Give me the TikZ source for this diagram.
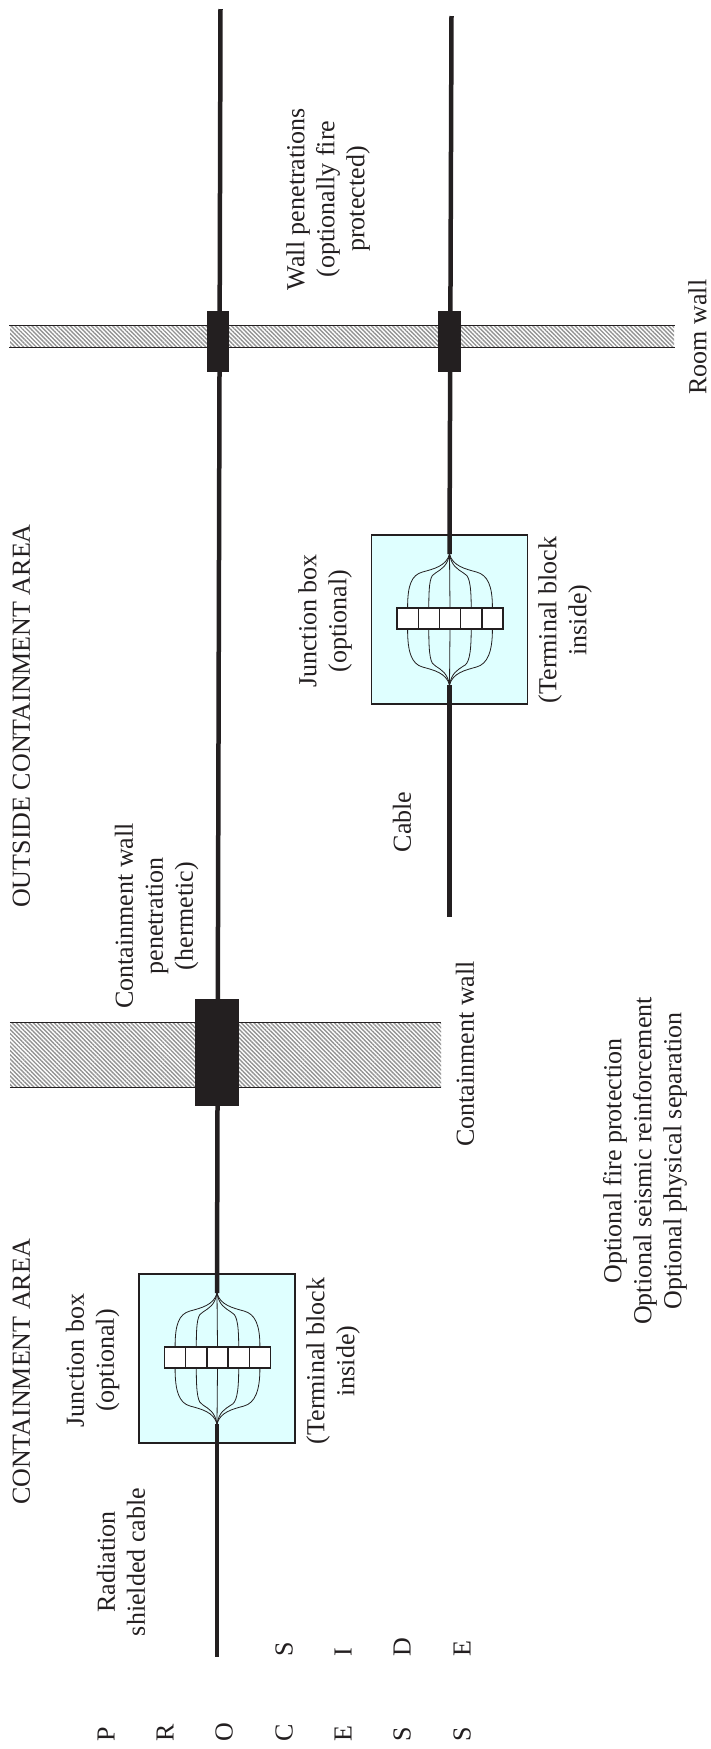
\documentclass[tikz,border=0pt]{standalone}
\usepackage{fontspec}
\setmainfont{Liberation Serif}
\usetikzlibrary{patterns.meta}
\definecolor{boxcyan}{HTML}{DFFFFF}
\definecolor{inkblack}{HTML}{231F20}
\tikzset{label/.style={rotate=90,align=center,inner sep=0pt,font=\fontsize{26}{30}\selectfont,text=inkblack},letter/.style={rotate=90,anchor=west,inner sep=0pt,text height=17pt,text depth=0pt,font=\fontsize{26}{30}\selectfont,text=inkblack},cable/.style={line width=4.5pt,inkblack},wire/.style={line width=0.8pt,inkblack},jbox/.style={rectangle,draw=inkblack,line width=1.2pt,fill=boxcyan,minimum width=156pt,minimum height=169pt,inner sep=0pt},cell/.style={rectangle,draw=inkblack,line width=1.4pt,fill=white,minimum width=21.2pt,minimum height=21pt,inner sep=0pt},block/.style={rectangle,fill=inkblack,inner sep=0pt},wall/.style={rectangle,inner sep=0pt,pattern={Lines[angle=-45,distance=3pt,line width=1.4pt]},pattern color=gray!85},walledge/.style={line width=1.3pt,inkblack}}

\begin{document}
\begin{tikzpicture}[x=1pt,y=-1pt]
\useasboundingbox (0,0) rectangle (710,1749);
% walls
\node[wall,minimum width=664pt,minimum height=21pt] (roomwall) at (342,336.5) {};
\node[wall,minimum width=431pt,minimum height=64pt] (contwall) at (225.5,1055) {};
\draw[walledge] (roomwall.north west) -- (roomwall.north east);
\draw[walledge] (roomwall.south west) -- (roomwall.south east);
\draw[walledge] (contwall.north west) -- (contwall.north east);
\draw[walledge] (contwall.south west) -- (contwall.south east);
% junction boxes
\foreach \bx/\by/\bn in {217/1358.5/ja,449.5/619.5/jb}{
\node[jbox] (\bn) at (\bx,\by) {};
\coordinate (\bn top) at (\bx,\by-65.5);
\coordinate (\bn bot) at (\bx,\by+65.5);
\foreach \c/\dx in {1/-42.4,2/-21.2,3/0,4/21.2,5/42.4}{
\node[cell] (\bn\c) at (\bx+0.5+\dx,\by-1) {};
}
\foreach \e/\a/\v in {top/north/1,bot/south/-1}{
\draw[wire] (\bn\e) -- (\bn3.\a);
\foreach \c/\s in {1/-1,5/1}{
\draw[wire] (\bn\e) .. controls +({\s*3},{\v*12}) and +({\s*-11},{\v*-3}) .. ++({\s*27},{\v*18}) .. controls +({\s*11},{\v*3}) and +(0,{\v*-22}) .. (\bn\c.\a);
}
\foreach \c/\s in {2/-1,4/1}{
\draw[wire] (\bn\e) .. controls +({\s*2},{\v*12}) and +({\s*-6},{\v*-4}) .. ++({\s*14},{\v*19}) .. controls +({\s*5},{\v*2}) and +(0,{\v*-26}) .. (\bn\c.\a);
}
}
}
% cables
\coordinate (upstart) at (220.5,9);
\coordinate (upend) at (217,1657);
\coordinate (lowstart) at (451.5,16);
\coordinate (lowend) at (449.5,917);
\draw[cable] (upstart) -- (jatop);
\draw[cable] (jabot) -- (upend);
\draw[cable] (lowstart) -- (jbtop);
\draw[cable] (jbbot) -- (lowend);
% penetrations
\node[block,minimum width=22pt,minimum height=61pt] (penup) at (218,341.5) {};
\node[block,minimum width=23pt,minimum height=61pt] (penlow) at (449.5,341.5) {};
\node[block,minimum width=44pt,minimum height=107pt] (pencont) at (217,1052.5) {};
% texts
\node[label] (contarea) at (21.5,1372) {CONTAINMENT AREA};
\node[label] (outarea) at (21.5,716) {OUTSIDE CONTAINMENT AREA};
\node[label] (radcable) at (121,1562) {Radiation\\shielded cable};
\node[label] (jatext) at (92.5,1360.5) {Junction box\\(optional)};
\node[label] (jatblock) at (333,1361) {(Terminal block\\inside)};
\node[label] (penlabel) at (156.5,916) {Containment wall\\penetration\\(hermetic)};
\node[label] (contlabel) at (465,1054) {Containment wall};
\node[label] (optlabel) at (645,1161) {Optional fire protection\\Optional seismic reinforcement\\Optional physical separation};
\node[label] (cablelabel) at (402,822) {Cable};
\node[label] (jbtext) at (325,621) {Junction box\\(optional)};
\node[label] (jbtblock) at (565,620) {(Terminal block\\inside)};
\node[label] (walllabel) at (328,199) {Wall penetrations\\(optionally fire\\protected)};
\node[label] (roomlabel) at (697.5,337) {Room wall};
% process side
\foreach \x/\t [count=\i] in {106/P,165/R,224/O,284/C,343/E,402/S,462/S}{
\node[letter] (pr\i) at (\x,1742) {\t};
}
\foreach \x/\t [count=\i] in {284/S,343/I,402/D,462/E}{
\node[letter] (si\i) at (\x,1657) {\t};
}
\end{tikzpicture}
\end{document}
